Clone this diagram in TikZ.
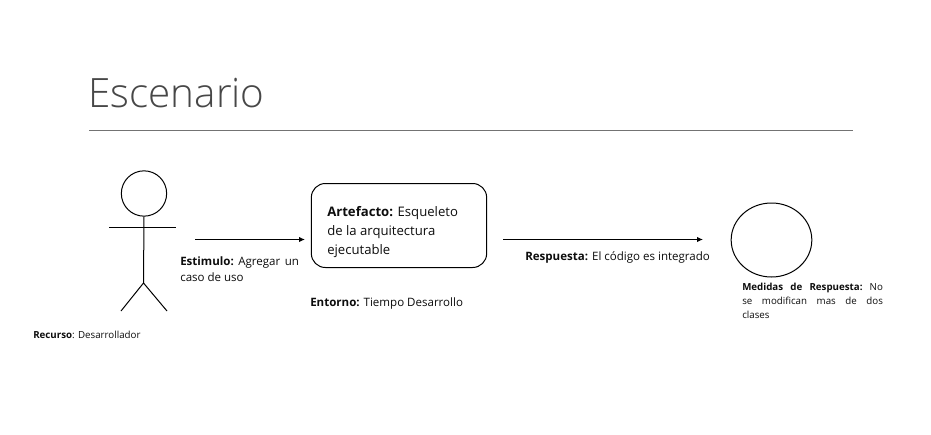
\documentclass[tikz,border=0pt]{standalone}
\usepackage{fontspec}
\setmainfont{Open Sans}
\newfontfamily\ttlfont{Open Sans Light}
\usetikzlibrary{arrows.meta,shapes.geometric}
\tikzset{
  ln/.style={draw=black,line width=0.75pt},
  arr/.style={ln,-{Latex[length=4.5pt,width=4pt]}},
  lab/.style={anchor=north west,inner sep=0pt,align=left,text=black!95,font=\fontsize{8.65pt}{12.2pt}\selectfont},
  labs/.style={anchor=north west,inner sep=0pt,align=left,text=black!95,font=\fontsize{7.3pt}{10.5pt}\selectfont},
  lab9/.style={anchor=north west,inner sep=0pt,align=left,text=black!95,font=\fontsize{9.85pt}{14.25pt}\selectfont},
}
\begin{document}
\begin{tikzpicture}[x=0.75pt,y=-0.75pt]
\useasboundingbox (0,0) rectangle (931,435);
\fill[white] (0,0) rectangle (931,435);
\node[anchor=west,inner sep=0pt,text=black!72,font=\ttlfont\fontsize{30.3pt}{36pt}\selectfont] (title) at (88,93) {Escenario};
\coordinate (ruleL) at (89,130.5);
\coordinate (ruleR) at (853,130.5);
\draw[draw=black!55,line width=0.75pt] (ruleL) -- (ruleR);
% actor
\node[circle,ln,minimum size=34pt,inner sep=0pt] (head) at (144,193.5) {};
\coordinate (armL) at (109,227);
\coordinate (armR) at (176,227);
\coordinate (hip) at (143.5,283);
\coordinate (footL) at (121,311);
\coordinate (footR) at (167,311);
\draw[ln] (head.south) -- (hip);
\draw[ln] (armL) -- (armR);
\draw[ln] (footL) -- (hip) -- (footR);
\node[labs] (recurso) at (33,331) {\textbf{Recurso}: Desarrollador};
% stimulus
\coordinate (s1) at (195,239.5);
\coordinate (s2) at (305,239.5);
\draw[arr] (s1) -- (s2);
\node[lab] (estimulo) at (180,256) {\hbox to 89pt{\textbf{Estimulo:}\hfill Agregar\hfill un}\\caso de uso};
% artifact
\node[draw=black,line width=0.75pt,rounded corners=10.5pt,minimum width=131.5pt,minimum height=63pt,inner sep=0pt] (art) at (399,225.5) {};
\node[lab9] (arttext) at (327,206.5) {\textbf{Artefacto:} Esqueleto\\de la arquitectura\\ejecutable};
\node[lab] (entorno) at (310,297) {\textbf{Entorno:} Tiempo Desarrollo};
% response
\coordinate (r1) at (503,239.5);
\coordinate (r2) at (703,239.5);
\draw[arr] (r1) -- (r2);
\node[lab] (respuesta) at (525,251) {\textbf{Respuesta:} El código es integrado};
\node[ellipse,ln,minimum width=60.5pt,minimum height=55.5pt,inner sep=0pt] (meas) at (771.5,240) {};
\node[labs] (medidas) at (742,283) {\hbox to 105.5pt{\textbf{Medidas}\hfill\textbf{de}\hfill\textbf{Respuesta:}\hfill No}\\\hbox to 105.5pt{se\hfill modifican\hfill mas\hfill de\hfill dos}\\clases};
\end{tikzpicture}
\end{document}
